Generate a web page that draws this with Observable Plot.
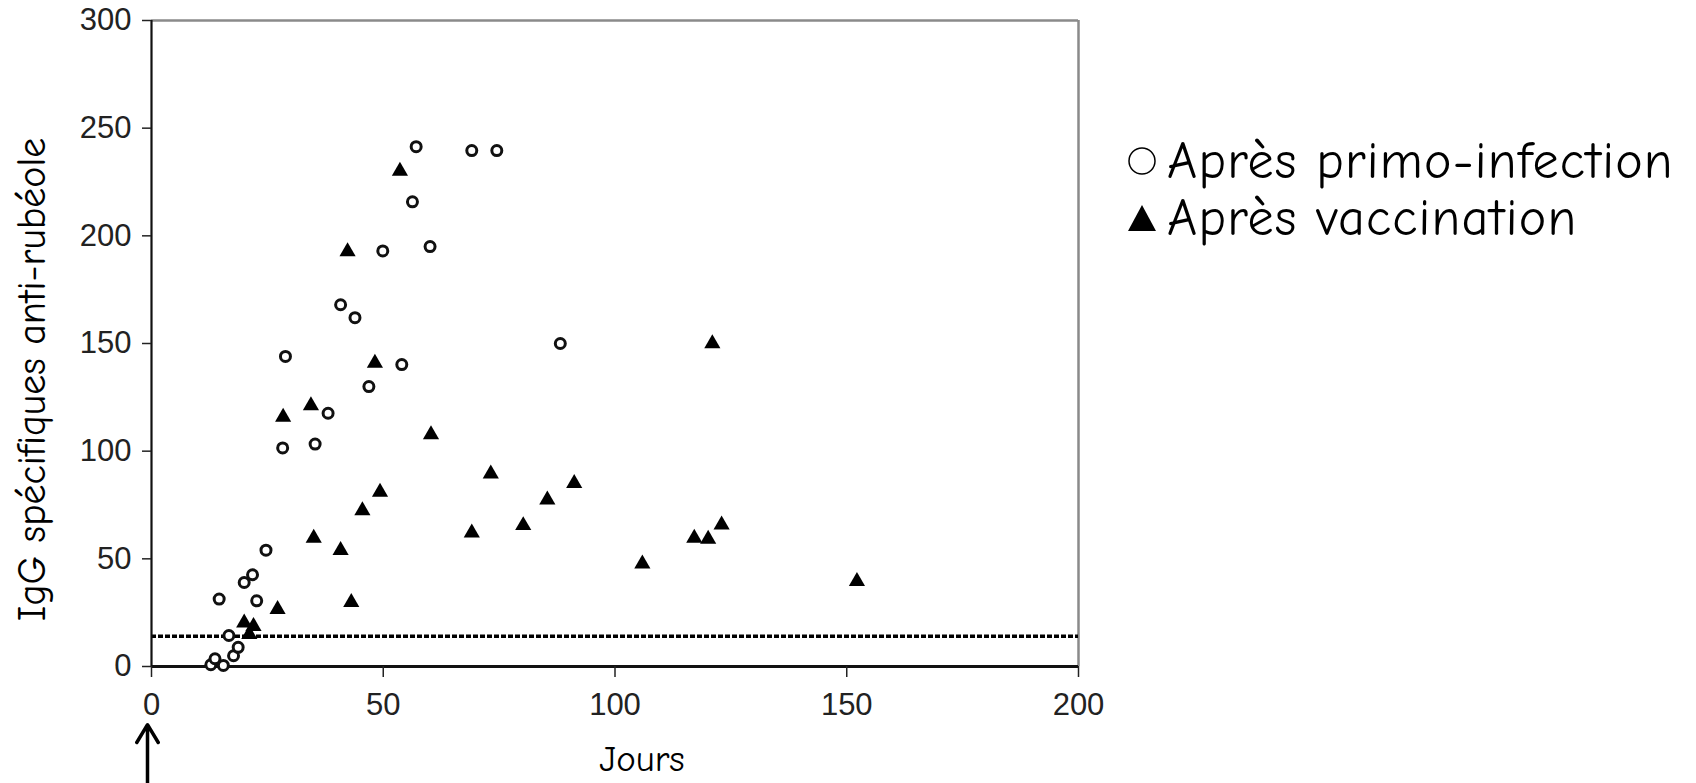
<!DOCTYPE html>
<html>
<head>
<meta charset="utf-8">
<script src="https://cdn.jsdelivr.net/npm/d3@7"></script>
<script src="https://cdn.jsdelivr.net/npm/@observablehq/plot@0.6"></script>
<style>
  html, body { margin: 0; padding: 0; background: #fff; }
  #wrap { position: relative; width: 1696px; height: 783px; overflow: hidden; }
  #legend { position: absolute; left: 1127px; top: 132px;
    font-family: "Comic Sans MS", "Comic Neue", "DejaVu Sans", sans-serif;
    font-size: 52px; letter-spacing: 1.2px; color: #000; }
  #legend .row { display: flex; align-items: center; height: 57px; }
  #legend span { line-height: 1; display: block; }
  #legend svg { display: block; margin-right: 10px; }
</style>
</head>
<body>
<div id="wrap"><div id="chart"></div><div id="legend"></div></div>
<script>
// ---- Data ----
// Après primo-infection (open circles)
const primoDays = [12.8, 13.7, 15.5, 14.6, 16.7, 17.7, 18.7, 20.0, 21.8, 22.7, 24.7, 28.3, 28.9,
                   35.3, 38.1, 40.8, 43.9, 46.9, 49.9, 54.0, 56.3, 57.1, 60.1, 69.1, 74.5, 88.2];
const primoIgG  = [0.8, 3.6, 0.5, 31.3, 14.4, 5.0, 8.9, 39.0, 42.6, 30.5, 54, 101.5, 144,
                   103.3, 117.6, 168, 162, 130, 193, 140.2, 215.8, 241.4, 195, 239.6, 239.6, 150];
// Après vaccination (filled triangles)
const vaccDays = [20.0, 21.1, 22.0, 27.2, 28.4, 34.4, 35.0, 40.8, 42.3, 43.1, 45.5, 48.2, 49.3,
                  53.6, 60.3, 69.1, 73.2, 80.2, 85.4, 91.2, 105.9, 117.1, 120.1, 121.0, 123.0, 152.2];
const vaccIgG  = [20.3, 14.9, 18.7, 26.6, 115.8, 121.2, 59.6, 54, 192.7, 29.8, 72.4, 140.9, 81.0,
                  230.1, 107.7, 62.1, 89.5, 65.5, 77.4, 85.1, 47.7, 59.6, 59.2, 150, 65.8, 39.5];
// Seuil de positivité (dotted line)
const threshold = 14;
// Axis ticks
const xTicks = [0, 50, 100, 150, 200];
const yTicks = [0, 50, 100, 150, 200, 250, 300];
const xDomain = [0, 200];
const yDomain = [0, 300];
// Texts
const xTitle = "Jours";
const yTitle = "IgG spécifiques anti-rubéole";
const legendLabels = ["Après primo-infection", "Après vaccination"];
const legendSymbols = ["circle", "triangle"];
// Arrow marking day 0 (drawn below the axis)
const arrowDay = [0];
const arrowFrom = -56;
const arrowTo = -27;

const primo = primoDays.map((d, i) => ({day: d, igg: primoIgG[i]}));
const vacc = vaccDays.map((d, i) => ({day: d, igg: vaccIgG[i]}));

const tickFont = "'Liberation Sans', Arial, Helvetica, sans-serif";
const titleFont = "'Comic Sans MS', 'Comic Neue', 'DejaVu Sans', sans-serif";

const chart = Plot.plot({
  width: 1696,
  height: 783,
  marginLeft: 151,
  marginRight: 618,
  marginTop: 20,
  marginBottom: 117,
  x: {domain: xDomain},
  y: {domain: yDomain},
  style: {background: "white", overflow: "visible"},
  marks: [
    Plot.ruleY([yDomain[1]], {stroke: "#8a8a8a", strokeWidth: 2.5}),
    Plot.ruleX([xDomain[1]], {stroke: "#8a8a8a", strokeWidth: 2.5}),
    Plot.ruleY([threshold], {stroke: "#000", strokeWidth: 3.5, strokeDasharray: "5,2"}),
    Plot.ruleX([xDomain[0]], {stroke: "#111", strokeWidth: 2.2}),
    Plot.ruleY([yDomain[0]], {stroke: "#111", strokeWidth: 2.8}),
    Plot.axisY({ticks: yTicks, tickSize: 9, tickPadding: 11, fontSize: 31, fontFamily: tickFont,
                label: null, color: "#222", strokeWidth: 1.5}),
    Plot.axisX({ticks: xTicks, tickSize: 11, tickPadding: 15, fontSize: 31, fontFamily: tickFont,
                label: null, color: "#222", strokeWidth: 1.5}),
    Plot.dot(primo, {x: "day", y: "igg", r: 5, fill: "white", stroke: "#111", strokeWidth: 3}),
    Plot.dot(vacc, {x: "day", y: "igg", symbol: "triangle", r: 6, fill: "#000", stroke: "none"}),
    Plot.text([yTitle], {text: d => d, frameAnchor: "left", textAnchor: "middle", rotate: -90,
                         dx: -119, dy: 36, fontSize: 40, fontFamily: titleFont, fill: "#000",
                         lineAnchor: "middle"}),
    Plot.text([xTitle], {text: d => d, frameAnchor: "bottom", textAnchor: "middle", dx: 27, dy: 93,
                         fontSize: 37, fontFamily: titleFont, fill: "#000", lineAnchor: "middle"}),
    Plot.arrow(arrowDay, {x1: d => d, x2: d => d, y1: () => arrowFrom, y2: () => arrowTo,
                          stroke: "#000", strokeWidth: 3.5, headLength: 22, headAngle: 62, dx: -4})
  ]
});
document.getElementById("chart").appendChild(chart);

// Legend (HTML, overlaid on the empty right side)
const legend = document.getElementById("legend");
legendLabels.forEach((label, i) => {
  const row = document.createElement("div");
  row.className = "row";
  const sym = legendSymbols[i] === "circle"
    ? `<svg width="30" height="30"><circle cx="15" cy="15" r="13" fill="none" stroke="#000" stroke-width="1.5"/></svg>`
    : `<svg width="30" height="30"><path d="M15,2 L29,28 L1,28 Z" fill="#000"/></svg>`;
  row.innerHTML = sym + `<span>${label}</span>`;
  legend.appendChild(row);
});
</script>
</body>
</html>
